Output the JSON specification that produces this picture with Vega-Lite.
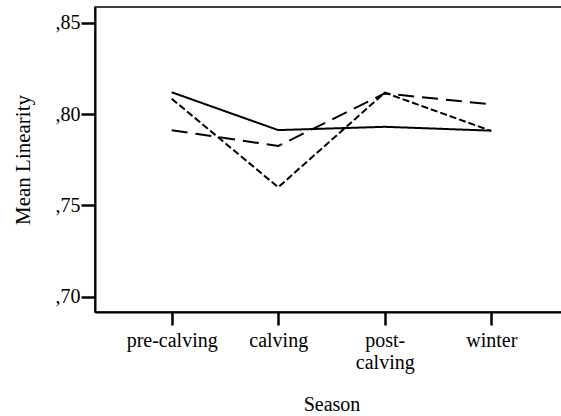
{
  "$schema": "https://vega.github.io/schema/vega-lite/v6.json",
  "autosize": {"type": "none"},
  "width": 473,
  "height": 305,
  "padding": {"left": 95, "top": 7, "right": 0, "bottom": 104},
  "background": "white",
  "config": {
    "view": {"stroke": "black", "strokeWidth": 1.5},
    "font": "Liberation Serif"
  },
  "data": {
    "values": [
      {"season": "pre-calving", "group": "A", "value": 0.8119},
      {"season": "calving", "group": "A", "value": 0.7912},
      {"season": "post-calving", "group": "A", "value": 0.7930},
      {"season": "winter", "group": "A", "value": 0.7909},
      {"season": "pre-calving", "group": "B", "value": 0.7911},
      {"season": "calving", "group": "B", "value": 0.7825},
      {"season": "post-calving", "group": "B", "value": 0.8113},
      {"season": "winter", "group": "B", "value": 0.8053},
      {"season": "pre-calving", "group": "C", "value": 0.8084},
      {"season": "calving", "group": "C", "value": 0.7599},
      {"season": "post-calving", "group": "C", "value": 0.8117},
      {"season": "winter", "group": "C", "value": 0.7907}
    ]
  },
  "mark": {"type": "line", "strokeWidth": 2, "color": "black"},
  "encoding": {
    "x": {
      "field": "season",
      "type": "ordinal",
      "sort": ["pre-calving", "calving", "post-calving", "winter"],
      "scale": {"type": "point", "padding": 0.72},
      "axis": {
        "title": "Season",
        "titleFont": "Liberation Serif",
        "titleFontSize": 20,
        "titleFontWeight": "normal",
        "titleColor": "black",
        "titlePadding": 22,
        "labelFont": "Liberation Serif",
        "labelFontSize": 20,
        "labelColor": "black",
        "labelAngle": 0,
        "labelPadding": 5,
        "labelExpr": "datum.value == 'post-calving' ? ['post-', 'calving'] : datum.value",
        "labelLineHeight": 22,
        "tickSize": 13,
        "tickWidth": 2.5,
        "tickColor": "black",
        "domainColor": "black",
        "domainWidth": 2,
        "grid": false
      }
    },
    "y": {
      "field": "value",
      "type": "quantitative",
      "scale": {"domain": [0.6916, 0.8586], "nice": false, "zero": false},
      "axis": {
        "title": "Mean Linearity",
        "titleFont": "Liberation Serif",
        "titleFontSize": 21,
        "titleFontWeight": "normal",
        "titlePadding": 22,
        "titleColor": "black",
        "values": [0.70, 0.75, 0.80, 0.85],
        "labelExpr": "replace(format(datum.value, '.2f'), '0.', ',')",
        "labelFont": "Liberation Serif",
        "labelFontSize": 20,
        "labelColor": "black",
        "labelPadding": 1,
        "tickSize": 14,
        "tickWidth": 2.5,
        "tickColor": "black",
        "domainColor": "black",
        "domainWidth": 2,
        "grid": false
      }
    },
    "strokeDash": {
      "field": "group",
      "type": "nominal",
      "scale": {"domain": ["A", "B", "C"], "range": [[1, 0], [16, 8], [7, 3]]},
      "legend": null
    }
  }
}
